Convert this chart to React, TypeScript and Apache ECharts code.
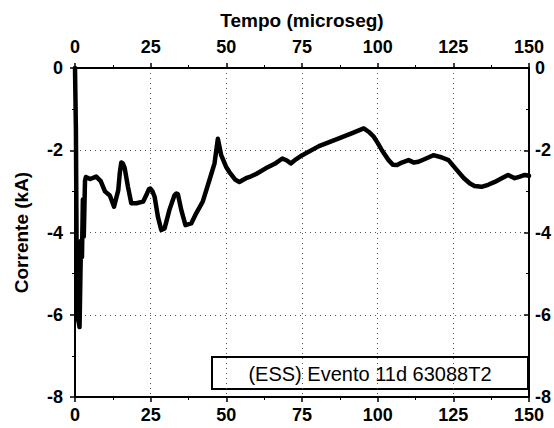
import React, { useEffect, useRef } from "react";
import * as echarts from "echarts";

const xTicks = [0, 25, 50, 75, 100, 125, 150];
const yTicks = [-8, -6, -4, -2, 0];
const legendText = "(ESS) Evento 11d 63088T2";
const xTitle = "Tempo (microseg)";
const yTitle = "Corrente (kA)";

const timeUs = [
  0, 0.3, 0.6, 1.0, 1.5, 1.8, 2.0, 2.3, 2.6, 2.9, 3.3, 3.6, 5, 7, 8.5, 9.9, 11.5, 12.9, 14.3, 14.8,
  15.3, 15.8, 16.4, 17.5, 18.6, 20.3, 22.5, 23.8, 24.4, 24.9, 25.6, 26.3, 27.4, 28.5, 29.6, 31.2,
  32.9, 33.5, 34.0, 35.1, 36.5, 38.4, 40.0, 42.2, 44.4, 46.1, 47.2, 48.3, 49.9, 51, 53, 54.3, 56.5,
  58, 60, 63, 66, 68.5, 70, 71.3, 73, 75.1, 80.6, 87.2, 92, 95.4, 97, 98.7, 100, 101.4, 103.6, 105,
  106.4, 108, 110.2, 112, 113.5, 116, 118.4, 121, 123.4, 125, 126.6, 128.5, 130.5, 132, 134.3,
  136.5, 138.7, 141, 143.1, 145.3, 147, 148.6, 150,
];
const currentKA = [
  0, -1.5, -5.3, -6.1, -6.3, -5.0, -4.2, -4.6, -3.2, -4.1, -2.75, -2.65, -2.7, -2.64, -2.75, -3.0,
  -3.1, -3.37, -2.97, -2.55, -2.3, -2.32, -2.43, -2.89, -3.29, -3.29, -3.25, -3.05, -2.95, -2.93,
  -3.0, -3.13, -3.62, -3.94, -3.9, -3.45, -3.09, -3.05, -3.07, -3.45, -3.82, -3.78, -3.54, -3.25,
  -2.73, -2.32, -1.72, -2.12, -2.4, -2.53, -2.72, -2.77, -2.68, -2.64, -2.57, -2.44, -2.33, -2.2,
  -2.25, -2.32, -2.22, -2.12, -1.9, -1.71, -1.57, -1.47, -1.55, -1.67, -1.82, -2.0, -2.24, -2.35,
  -2.36, -2.3, -2.24, -2.3, -2.28, -2.2, -2.12, -2.17, -2.24, -2.38, -2.52, -2.68, -2.81, -2.87,
  -2.89, -2.84, -2.77, -2.68, -2.6, -2.68, -2.64, -2.6, -2.62,
];

const FONT = '"Liberation Sans", Arial, sans-serif';

export default function App() {
  const ref = useRef<HTMLDivElement>(null);
  useEffect(() => {
    if (!ref.current) return;
    const chart = echarts.init(ref.current, null, { renderer: "svg" });
    const data = timeUs.map((t, i) => [t, currentKA[i]]);
    const xMin = xTicks[0];
    const xMax = xTicks[xTicks.length - 1];
    const xInt = xTicks[1] - xTicks[0];
    const yMin = yTicks[0];
    const yMax = yTicks[yTicks.length - 1];
    const yInt = yTicks[1] - yTicks[0];
    const label = { color: "#000", fontFamily: FONT, fontWeight: "bold" as const, fontSize: 18 };
    const axisLine = { show: true, onZero: false, lineStyle: { color: "#000", width: 2 } };
    const axisTick = { show: true, inside: false, length: 5, lineStyle: { color: "#000", width: 1.5 } };
    const minorTick = { show: true, splitNumber: 2, length: 3, lineStyle: { color: "#000", width: 1 } };
    const splitLine = { show: true, lineStyle: { color: "#555", width: 1, type: [1, 4] as any } };
    chart.setOption({
      animation: false,
      backgroundColor: "#fff",
      grid: {
        left: 75, top: 68, right: 23, bottom: 31, containLabel: false,
        show: true, borderColor: "#000", borderWidth: 2, backgroundColor: "transparent",
      },
      xAxis: [
        {
          type: "value", position: "bottom", min: xMin, max: xMax, interval: xInt,
          axisLine, axisTick, minorTick, splitLine,
          axisLabel: { ...label, margin: 9 },
        },
        {
          type: "value", position: "top", min: xMin, max: xMax, interval: xInt,
          axisLine, axisTick, minorTick, splitLine: { show: false },
          axisLabel: { ...label, margin: 12 },
          name: xTitle, nameLocation: "middle", nameGap: 38,
          nameTextStyle: { color: "#000", fontFamily: FONT, fontWeight: "bold", fontSize: 19 },
        },
      ],
      yAxis: [
        {
          type: "value", position: "left", min: yMin, max: yMax, interval: yInt,
          axisLine, axisTick, minorTick, splitLine,
          axisLabel: { ...label, margin: 12 },
          name: yTitle, nameLocation: "middle", nameGap: 44,
          nameTextStyle: { color: "#000", fontFamily: FONT, fontWeight: "bold", fontSize: 19 },
        },
        {
          type: "value", position: "right", min: yMin, max: yMax, interval: yInt,
          axisLine, axisTick: { ...axisTick, inside: true }, minorTick: { ...minorTick },
          splitLine: { show: false },
          axisLabel: { ...label, margin: 6 },
        },
      ],
      series: [
        {
          type: "line", name: legendText, data, xAxisIndex: 0, yAxisIndex: 0,
          showSymbol: false, symbol: "none",
          lineStyle: { color: "#000", width: 4.5, join: "round", cap: "round" },
          itemStyle: { color: "#000" }, z: 5,
        },
      ],
      graphic: [
        {
          type: "group", z: 100,
          children: [
            {
              type: "rect", shape: { x: 212, y: 357, width: 316, height: 32 },
              style: { fill: "#fff", stroke: "#000", lineWidth: 2 },
            },
            {
              type: "text", x: 370, y: 374,
              style: {
                text: legendText, fill: "#000", font: `20px ${FONT}`,
                align: "center", verticalAlign: "middle",
              },
            },
          ],
        },
      ],
    });
    return () => chart.dispose();
  }, []);
  return (
    <div
      ref={ref}
      style={{ position: "fixed", left: 0, top: 0, width: 554, height: 428, background: "#fff" }}
    />
  );
}
